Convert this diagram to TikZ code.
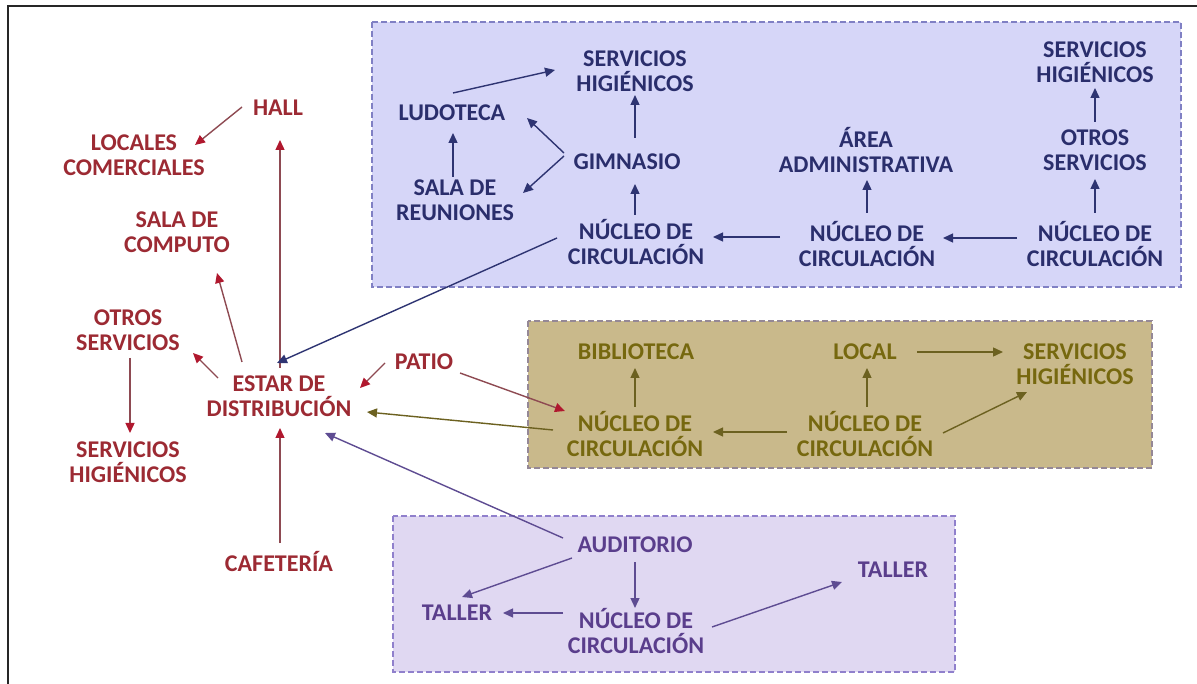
\documentclass[tikz,border=0pt]{standalone}
\usepackage{fontspec}
\setmainfont{Carlito}
\usetikzlibrary{arrows.meta}
\definecolor{redtxt}{HTML}{9C2A33}
\definecolor{redline}{HTML}{8E4A52}
\definecolor{redtip}{HTML}{B0182E}
\definecolor{bluetxt}{HTML}{2A2E6C}
\definecolor{blueline}{HTML}{2E3472}
\definecolor{olivetxt}{HTML}{76680F}
\definecolor{oliveline}{HTML}{6C6120}
\definecolor{purptxt}{HTML}{5A3E8C}
\definecolor{purpline}{HTML}{5E4C92}
\definecolor{bluefill}{HTML}{D6D6F8}
\definecolor{blueedge}{HTML}{8080C4}
\definecolor{tanfill}{HTML}{C9B98B}
\definecolor{tanedge}{HTML}{958896}
\definecolor{lilfill}{HTML}{E0D8F2}
\definecolor{liledge}{HTML}{9080CC}
\tikzset{
  lbl/.style={font=\fontsize{24}{25}\selectfont\bfseries, align=center, inner sep=0pt},
  rl/.style={lbl, text=redtxt},
  bl/.style={lbl, text=bluetxt},
  ol/.style={lbl, text=olivetxt},
  pl/.style={lbl, text=purptxt},
  arr/.style={line width=1.4pt},
  ra/.style={arr, draw=redline, -{Triangle[length=10pt,width=9pt,color=redtip]}},
  ba/.style={arr, draw=blueline, -{Triangle[length=10pt,width=9pt,color=blueline]}},
  oa/.style={arr, draw=oliveline, -{Triangle[length=10pt,width=9pt,color=oliveline]}},
  pa/.style={arr, draw=purpline, -{Triangle[length=10pt,width=9pt,color=purpline]}},
  zone/.style={line width=2.5pt, dash pattern=on 6pt off 3pt}
}
\begin{document}
\begin{tikzpicture}[x=1pt,y=-1pt]
\useasboundingbox (0,0) rectangle (1197,684);
\fill[white] (0,0) rectangle (1197,684);
% frame
\draw[line width=2pt, black!85] (8,684) -- (8,6) -- (1197,6);
% zones
\draw[zone, fill=bluefill, draw=blueedge] (372,22) rectangle (1181,287);
\draw[zone, fill=tanfill, draw=tanedge] (528,321) rectangle (1152,468);
\draw[zone, fill=lilfill, draw=liledge] (393,516) rectangle (955,672);
% red nodes
\node[rl] (hall) at (278,108) {HALL};
\node[rl] (locales) at (134,155) {LOCALES\\COMERCIALES};
\node[rl] (computo) at (177,232) {SALA DE\\COMPUTO};
\node[rl] (otrosL) at (128,330) {OTROS\\SERVICIOS};
\node[rl] (shL) at (128,462) {SERVICIOS\\HIGIÉNICOS};
\node[rl] (estar) at (279,396) {ESTAR DE\\DISTRIBUCIÓN};
\node[rl] (patio) at (424,362) {PATIO};
\node[rl] (cafe) at (279,562) {CAFETERÍA};
% blue nodes
\node[bl] (ludo) at (452,113) {LUDOTECA};
\node[bl] (shB1) at (635,71) {SERVICIOS\\HIGIÉNICOS};
\node[bl] (gim) at (627,162) {GIMNASIO};
\node[bl] (sala) at (455,200) {SALA DE\\REUNIONES};
\node[bl] (nuc1) at (636,242) {NÚCLEO DE\\CIRCULACIÓN};
\node[bl] (area) at (866,150) {ÁREA\\ADMINISTRATIVA};
\node[bl] (nuc2) at (867,244) {NÚCLEO DE\\CIRCULACIÓN};
\node[bl] (shB2) at (1095,62) {SERVICIOS\\HIGIÉNICOS};
\node[bl] (otrosB) at (1095,150) {OTROS\\SERVICIOS};
\node[bl] (nuc3) at (1095,244) {NÚCLEO DE\\CIRCULACIÓN};
% tan nodes
\node[ol] (bib) at (636,352) {BIBLIOTECA};
\node[ol] (local) at (865,352) {LOCAL};
\node[ol] (shT) at (1075,364) {SERVICIOS\\HIGIÉNICOS};
\node[ol] (nuc4) at (635,434) {NÚCLEO DE\\CIRCULACIÓN};
\node[ol] (nuc5) at (865,434) {NÚCLEO DE\\CIRCULACIÓN};
% lilac nodes
\node[pl] (aud) at (635,545) {AUDITORIO};
\node[pl] (tallerL) at (457,613) {TALLER};
\node[pl] (nuc6) at (636,631) {NÚCLEO DE\\CIRCULACIÓN};
\node[pl] (tallerR) at (893,570) {TALLER};
% red arrows
\draw[ra] ([shift={(-36,-1)}]hall.center) -- ([shift={(61,-10)}]locales.center);
\draw[ra] ([shift={(1,-28)}]estar.center) -- ([shift={(2,32)}]hall.center);
\draw[ra] ([shift={(-37,-34)}]estar.center) -- ([shift={(40,41)}]computo.center);
\draw[ra] ([shift={(-61,-18)}]estar.center) -- ([shift={(65,23)}]otrosL.center);
\draw[ra] ([shift={(2,28)}]otrosL.center) -- ([shift={(2,-29)}]shL.center);
\draw[ra] ([shift={(-39,1)}]patio.center) -- ([shift={(81,-8)}]estar.center);
\draw[ra] ([shift={(1,-19)}]cafe.center) -- ([shift={(1,32)}]estar.center);
\draw[ra] ([shift={(36,11)}]patio.center) -- ([shift={(-70,-23)}]nuc4.center);
% blue arrows
\draw[ba] ([shift={(-79,-4)}]nuc1.center) -- ([shift={(-2,-33)}]estar.center);
\draw[ba] ([shift={(1,-20)}]ludo.center) -- ([shift={(-80,-1)}]shB1.center);
\draw[ba] ([shift={(-63,-9)}]gim.center) -- ([shift={(75,5)}]ludo.center);
\draw[ba] ([shift={(-63,-6)}]gim.center) -- ([shift={(68,-7)}]sala.center);
\draw[ba] ([shift={(-2,-23)}]sala.center) -- ([shift={(1,20)}]ludo.center);
\draw[ba] ([shift={(8,-24)}]gim.center) -- ([shift={(0,24)}]shB1.center);
\draw[ba] ([shift={(-1,-27)}]nuc1.center) -- ([shift={(8,22)}]gim.center);
\draw[ba] ([shift={(-87,-7)}]nuc2.center) -- ([shift={(77,-5)}]nuc1.center);
\draw[ba] ([shift={(0,-31)}]nuc2.center) -- ([shift={(1,30)}]area.center);
\draw[ba] ([shift={(-78,-6)}]nuc3.center) -- ([shift={(76,-6)}]nuc2.center);
\draw[ba] ([shift={(0,-31)}]nuc3.center) -- ([shift={(0,29)}]otrosB.center);
\draw[ba] ([shift={(0,-28)}]otrosB.center) -- ([shift={(0,26)}]shB2.center);
% olive arrows
\draw[oa] ([shift={(-82,-4)}]nuc4.center) -- ([shift={(88,16)}]estar.center);
\draw[oa] ([shift={(0,-27)}]nuc4.center) -- ([shift={(-1,16)}]bib.center);
\draw[oa] ([shift={(-78,-2)}]nuc5.center) -- ([shift={(78,-2)}]nuc4.center);
\draw[oa] ([shift={(2,-27)}]nuc5.center) -- ([shift={(2,16)}]local.center);
\draw[oa] ([shift={(52,0)}]local.center) -- ([shift={(-72,-12)}]shT.center);
\draw[oa] ([shift={(78,-1)}]nuc5.center) -- ([shift={(-48,28)}]shT.center);
% purple arrows
\draw[pa] ([shift={(-72,-7)}]aud.center) -- ([shift={(46,37)}]estar.center);
\draw[pa] ([shift={(-63,13)}]aud.center) -- ([shift={(5,-16)}]tallerL.center);
\draw[pa] ([shift={(0,17)}]aud.center) -- ([shift={(-1,-23)}]nuc6.center);
\draw[pa] ([shift={(-73,-18)}]nuc6.center) -- ([shift={(46,0)}]tallerL.center);
\draw[pa] ([shift={(76,-4)}]nuc6.center) -- ([shift={(-51,12)}]tallerR.center);
\end{tikzpicture}
\end{document}
